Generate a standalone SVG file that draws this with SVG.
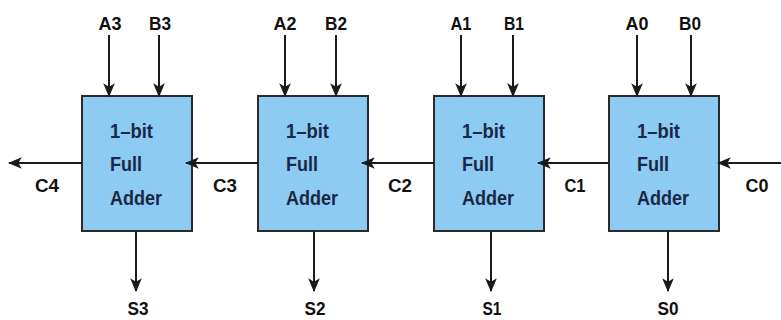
<svg xmlns="http://www.w3.org/2000/svg" width="781" height="320" viewBox="0 0 781 320">
<defs>
<style>
.box{fill:#8ecbf3;stroke:#2a2a2a;stroke-width:2}
.in{font-family:"Liberation Sans",Arial,sans-serif;font-weight:bold;font-size:20px;fill:#1a2848}
.lb{font-family:"Liberation Sans",Arial,sans-serif;font-weight:bold;font-size:19px;fill:#111;text-anchor:middle}
.w{stroke:#1a1a1a;stroke-width:2;fill:none;marker-end:url(#ah)}
</style>
<marker id="ah" viewBox="0 0 12 10" refX="11" refY="5" markerWidth="7" markerHeight="6" orient="auto" markerUnits="strokeWidth">
<path d="M0,0 L12,5 L0,10 L3,5 Z" fill="#1a1a1a"/>
</marker>
</defs>
<rect width="781" height="320" fill="#fff"/>
<g id="fa3">
<rect class="box" x="82" y="96" width="110" height="135"/>
<text class="in" x="110" y="138" textLength="43" lengthAdjust="spacingAndGlyphs">1–bit</text>
<text class="in" x="110" y="171" textLength="32" lengthAdjust="spacingAndGlyphs">Full</text>
<text class="in" x="110" y="205" textLength="52" lengthAdjust="spacingAndGlyphs">Adder</text>
</g>
<g id="fa2">
<rect class="box" x="258" y="96" width="110" height="135"/>
<text class="in" x="286" y="138" textLength="43" lengthAdjust="spacingAndGlyphs">1–bit</text>
<text class="in" x="286" y="171" textLength="32" lengthAdjust="spacingAndGlyphs">Full</text>
<text class="in" x="286" y="205" textLength="52" lengthAdjust="spacingAndGlyphs">Adder</text>
</g>
<g id="fa1">
<rect class="box" x="434" y="96" width="110" height="135"/>
<text class="in" x="462" y="138" textLength="43" lengthAdjust="spacingAndGlyphs">1–bit</text>
<text class="in" x="462" y="171" textLength="32" lengthAdjust="spacingAndGlyphs">Full</text>
<text class="in" x="462" y="205" textLength="52" lengthAdjust="spacingAndGlyphs">Adder</text>
</g>
<g id="fa0">
<rect class="box" x="609" y="96" width="110" height="135"/>
<text class="in" x="637" y="138" textLength="43" lengthAdjust="spacingAndGlyphs">1–bit</text>
<text class="in" x="637" y="171" textLength="32" lengthAdjust="spacingAndGlyphs">Full</text>
<text class="in" x="637" y="205" textLength="52" lengthAdjust="spacingAndGlyphs">Adder</text>
</g>
<g id="connectors">
<line class="w" x1="109" y1="35" x2="109" y2="96"/>
<line class="w" x1="159" y1="35" x2="159" y2="96"/>
<line class="w" x1="285" y1="35" x2="285" y2="96"/>
<line class="w" x1="336" y1="35" x2="336" y2="96"/>
<line class="w" x1="461" y1="35" x2="461" y2="96"/>
<line class="w" x1="513" y1="35" x2="513" y2="96"/>
<line class="w" x1="637" y1="35" x2="637" y2="96"/>
<line class="w" x1="691" y1="35" x2="691" y2="96"/>
<line class="w" x1="136" y1="231" x2="136" y2="291"/>
<line class="w" x1="314" y1="231" x2="314" y2="291"/>
<line class="w" x1="491" y1="231" x2="491" y2="291"/>
<line class="w" x1="668" y1="231" x2="668" y2="291"/>
<line class="w" x1="82" y1="163" x2="9" y2="163"/>
<line class="w" x1="258" y1="163" x2="186" y2="163"/>
<line class="w" x1="434" y1="163" x2="362" y2="163"/>
<line class="w" x1="609" y1="163" x2="538" y2="163"/>
<line class="w" x1="781" y1="163" x2="718" y2="163"/>
</g>
<g id="labels">
<text class="lb" x="110" y="30" textLength="23" lengthAdjust="spacingAndGlyphs">A3</text>
<text class="lb" x="160" y="30" textLength="22" lengthAdjust="spacingAndGlyphs">B3</text>
<text class="lb" x="285" y="30" textLength="23" lengthAdjust="spacingAndGlyphs">A2</text>
<text class="lb" x="336" y="30" textLength="22" lengthAdjust="spacingAndGlyphs">B2</text>
<text class="lb" x="461" y="30" textLength="21" lengthAdjust="spacingAndGlyphs">A1</text>
<text class="lb" x="514" y="30" textLength="20" lengthAdjust="spacingAndGlyphs">B1</text>
<text class="lb" x="637" y="30" textLength="23" lengthAdjust="spacingAndGlyphs">A0</text>
<text class="lb" x="690" y="30" textLength="22" lengthAdjust="spacingAndGlyphs">B0</text>
<text class="lb" x="47" y="192" textLength="24" lengthAdjust="spacingAndGlyphs">C4</text>
<text class="lb" x="225" y="192" textLength="24" lengthAdjust="spacingAndGlyphs">C3</text>
<text class="lb" x="400" y="192" textLength="24" lengthAdjust="spacingAndGlyphs">C2</text>
<text class="lb" x="575" y="192" textLength="21" lengthAdjust="spacingAndGlyphs">C1</text>
<text class="lb" x="757" y="192" textLength="23" lengthAdjust="spacingAndGlyphs">C0</text>
<text class="lb" x="138" y="315" textLength="21" lengthAdjust="spacingAndGlyphs">S3</text>
<text class="lb" x="315" y="315" textLength="21" lengthAdjust="spacingAndGlyphs">S2</text>
<text class="lb" x="492" y="315" textLength="19" lengthAdjust="spacingAndGlyphs">S1</text>
<text class="lb" x="668" y="315" textLength="21" lengthAdjust="spacingAndGlyphs">S0</text>
</g>
</svg>
